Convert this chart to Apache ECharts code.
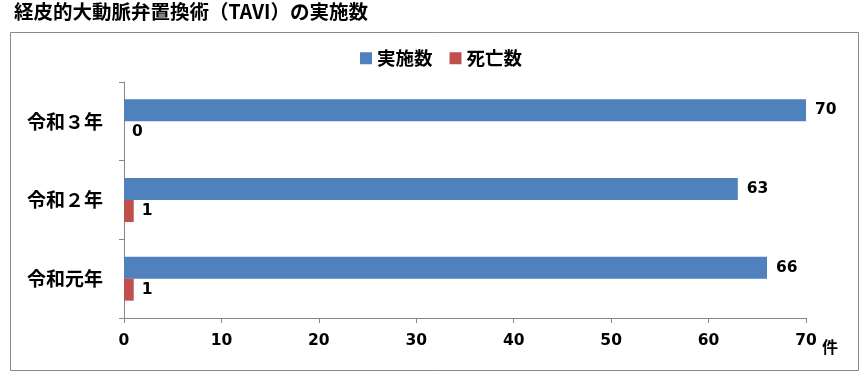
<!DOCTYPE html>
<html><head><meta charset="utf-8">
<script src="https://cdn.jsdelivr.net/npm/echarts@6/dist/echarts.min.js"></script>
<style>html,body{margin:0;padding:0;background:#fff}#c{width:868px;height:380px}</style>
</head><body><div id="c"></div>
<script>
const titleText = '経皮的大動脈弁置換術（TAVI）の実施数';
const categories = ['令和３年', '令和２年', '令和元年'];
const seriesNames = ['実施数', '死亡数'];
const procedures = [70, 63, 66];
const deaths = [0, 1, 1];
const xTicks = [0, 10, 20, 30, 40, 50, 60, 70];
const unitLabel = '件';

const font = '"Noto Sans CJK JP", "Noto Sans", sans-serif';
const numFont = '"DejaVu Sans", "Noto Sans CJK JP", sans-serif';
const chart = echarts.init(document.getElementById('c'), null, {renderer: 'canvas'});
chart.setOption({
  animation: false,
  textStyle: {fontFamily: font},
  graphic: [
    {type: 'rect', shape: {x: 10.5, y: 32.5, width: 848, height: 338}, style: {fill: 'none', stroke: '#8a8a8a', lineWidth: 1}, z: -1},
    {type: 'text', left: 14, top: 2, style: {text: titleText, font: 'bold 19.5px ' + font, fill: '#000'}},
    {type: 'text', left: 822, top: 339, style: {text: unitLabel, font: 'bold 16px ' + font, fill: '#000'}}
  ],
  legend: {
    data: seriesNames, top: 44, left: 355,
    itemWidth: 12, itemHeight: 12, itemGap: 17,
    textStyle: {fontWeight: 'bold', fontSize: 18.5, color: '#000', fontFamily: font},
    icon: 'rect'
  },
  grid: {left: 124, right: 62, top: 82, bottom: 62, containLabel: false},
  xAxis: {
    type: 'value', min: xTicks[0], max: xTicks[xTicks.length - 1], interval: 10,
    axisLine: {show: true, lineStyle: {color: '#868686'}},
    axisTick: {show: true, length: 5, lineStyle: {color: '#868686'}},
    splitLine: {show: false},
    axisLabel: {fontWeight: 'bold', fontSize: 15.5, color: '#000', margin: 15, fontFamily: numFont}
  },
  yAxis: {
    type: 'category', data: categories, inverse: true,
    axisLine: {show: true, lineStyle: {color: '#868686'}},
    axisTick: {show: true, length: 5, lineStyle: {color: '#868686'}},
    axisLabel: {fontWeight: 'bold', fontSize: 19, color: '#000', margin: 21, fontFamily: font}
  },
  series: [
    {name: seriesNames[0], type: 'bar', data: procedures, barWidth: 22, barGap: '0%',
     itemStyle: {color: '#4F81BD'},
     label: {show: true, position: 'right', distance: 9, fontWeight: 'bold', fontSize: 15.5, color: '#000', fontFamily: numFont}},
    {name: seriesNames[1], type: 'bar', data: deaths, barWidth: 22, barGap: '0%',
     itemStyle: {color: '#C0504D'},
     label: {show: true, position: 'right', distance: 8, fontWeight: 'bold', fontSize: 15.5, color: '#000', fontFamily: numFont}}
  ]
});
</script></body></html>
